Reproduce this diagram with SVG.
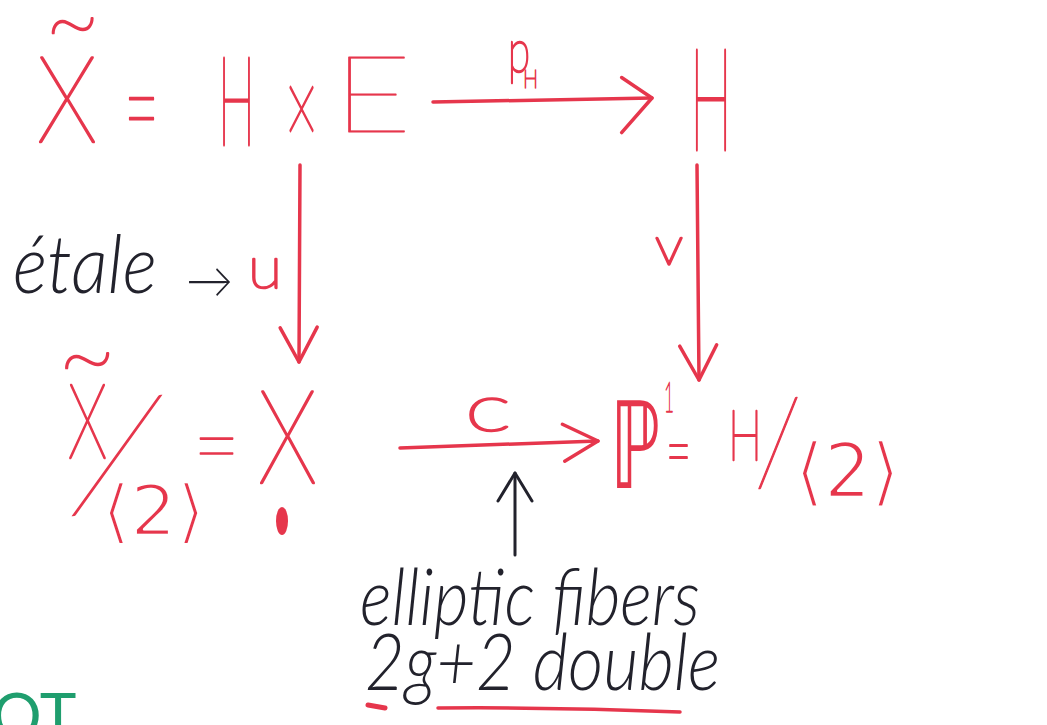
<svg xmlns="http://www.w3.org/2000/svg" width="1047" height="725" viewBox="0 0 1047 725">
<defs>
<style>
.r{fill:#e6364c;stroke:#e6364c;stroke-width:2.4;stroke-linejoin:round;font-family:Lato,"DejaVu Sans",sans-serif;font-weight:200}
.b{fill:#22222c;font-family:Lato,"DejaVu Sans",sans-serif;font-weight:300;font-style:italic}
.d{font-family:"DejaVu Sans",sans-serif;font-weight:normal;stroke:none}
.w{font-family:"DejaVu Sans",sans-serif;font-weight:normal;stroke:#ffffff;stroke-width:2.6;paint-order:normal}
.g{fill:#1f9e6e;font-family:Lato,sans-serif;font-weight:400}
.lr{stroke:#e6364c;stroke-width:3.5;fill:none;stroke-linecap:round;stroke-linejoin:round}
.lb{stroke:#22222c;stroke-width:3;fill:none;stroke-linecap:round;stroke-linejoin:round}
</style>
<marker id="aBig" markerUnits="userSpaceOnUse" viewBox="-40 -35 45 70" refX="0" refY="0" markerWidth="45" markerHeight="70" orient="auto" overflow="visible">
<path d="M-30,-21 L0,0 L-31,34" class="lr"/>
</marker>
<marker id="aRed" markerUnits="userSpaceOnUse" viewBox="-40 -30 45 60" refX="0" refY="0" markerWidth="45" markerHeight="60" orient="auto" overflow="visible">
<path d="M-35,-18 L0,0 L-34,19" class="lr"/>
</marker>
<marker id="aBlack" markerUnits="userSpaceOnUse" viewBox="-35 -25 40 50" refX="0" refY="0" markerWidth="40" markerHeight="50" orient="auto" overflow="visible">
<path d="M-28,-17 L0,0 L-28,17" class="lb"/>
</marker>
</defs>
<rect width="1047" height="725" fill="#ffffff"/>

<g id="connectors">
<line x1="433" y1="102" x2="652" y2="98" class="lr" marker-end="url(#aBig)"/>
<line x1="300" y1="165" x2="299" y2="362" class="lr" marker-end="url(#aRed)"/>
<line x1="697" y1="165" x2="699" y2="380" class="lr" marker-end="url(#aRed)"/>
<line x1="400" y1="448" x2="598" y2="441" class="lr" marker-end="url(#aRed)"/>
<text x="508" y="72" class="r" font-size="60" textLength="22" lengthAdjust="spacingAndGlyphs">p</text>
<text x="523" y="88" class="r" font-size="26" style="stroke-width:1.5" textLength="15" lengthAdjust="spacingAndGlyphs">H</text>
<text x="248" y="288" class="r" font-size="58" textLength="34" lengthAdjust="spacingAndGlyphs">u</text>
<text x="655" y="265" class="r" font-size="54" textLength="28" lengthAdjust="spacingAndGlyphs">v</text>
<text x="465" y="431" class="r" font-size="66" textLength="46" lengthAdjust="spacingAndGlyphs">c</text>
</g>

<g id="node-XHE">
<text x="45" y="58" class="r" font-size="110" textLength="55" lengthAdjust="spacingAndGlyphs">~</text>
<text x="37" y="142" class="r" font-size="120" textLength="60" lengthAdjust="spacingAndGlyphs">X</text>
<text x="124" y="154" class="r" font-size="135" textLength="35" lengthAdjust="spacingAndGlyphs">=</text>
<text x="218" y="145" class="r" font-size="125" style="stroke-width:3" textLength="37" lengthAdjust="spacingAndGlyphs">H</text>
<text x="285" y="146" class="r" font-size="110" textLength="33" lengthAdjust="spacingAndGlyphs">×</text>
<text x="333" y="132" class="r" font-size="107" style="stroke-width:0.8" textLength="79" lengthAdjust="spacingAndGlyphs">E</text>
</g>

<g id="node-H">
<text x="690" y="150" class="r" font-size="143" style="stroke-width:3" textLength="42" lengthAdjust="spacingAndGlyphs">H</text>
</g>

<g id="node-quotient">
<text x="58" y="393" class="r" font-size="110" textLength="58" lengthAdjust="spacingAndGlyphs">~</text>
<text x="68" y="458" class="r" font-size="105" textLength="39" lengthAdjust="spacingAndGlyphs">X</text>
<text x="60" y="510" class="r" font-size="160" style="stroke-width:0" textLength="114" lengthAdjust="spacingAndGlyphs">/</text>
<text x="102" y="535" class="r w" font-size="70" textLength="103" lengthAdjust="spacingAndGlyphs">⟨2⟩</text>
<text x="193" y="480" class="r" font-size="100" style="stroke-width:1.6" textLength="47" lengthAdjust="spacingAndGlyphs">=</text>
<text x="258" y="483" class="r" font-size="130" textLength="59" lengthAdjust="spacingAndGlyphs">X</text>
<ellipse cx="282" cy="521" rx="6" ry="14" fill="#e6364c"/>
</g>

<g id="node-P1">
<text x="610" y="488" class="r d" font-size="120" textLength="50" lengthAdjust="spacingAndGlyphs">ℙ</text>
<text x="664" y="412" class="r" font-size="42" style="stroke-width:1.6" textLength="10" lengthAdjust="spacingAndGlyphs">1</text>
<text x="666" y="479" class="r" font-size="80" textLength="25" lengthAdjust="spacingAndGlyphs">=</text>
<text x="728" y="460" class="r" font-size="70" textLength="34" lengthAdjust="spacingAndGlyphs">H</text>
<text x="754" y="484" class="r" font-size="120" style="stroke-width:1.2" textLength="48" lengthAdjust="spacingAndGlyphs">/</text>
<text x="795" y="497" class="r w" font-size="75" textLength="105" lengthAdjust="spacingAndGlyphs">⟨2⟩</text>
</g>

<g id="note-etale">
<text x="13" y="293" class="b" font-size="80" textLength="144" lengthAdjust="spacingAndGlyphs">étale</text>
<text x="186" y="298" class="b" font-size="50" textLength="47" lengthAdjust="spacingAndGlyphs">→</text>
</g>

<g id="note-fibers">
<line x1="515" y1="555" x2="515" y2="473" class="lb" marker-end="url(#aBlack)"/>
<text x="360" y="625" class="b" font-size="78" textLength="340" lengthAdjust="spacingAndGlyphs">elliptic fibers</text>
<text x="365" y="690" class="b" font-size="78" textLength="355" lengthAdjust="spacingAndGlyphs">2g+2 double</text>
<path d="M368,705 L385,708" stroke="#e6364c" stroke-width="5" stroke-linecap="round"/>
<path d="M438,708 Q560,707 680,712" class="lr"/>
</g>

<g id="note-OT">
<text x="-8" y="738" class="g" font-size="62">OT</text>
</g>
</svg>
